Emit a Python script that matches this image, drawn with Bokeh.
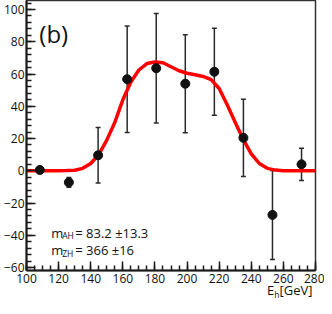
from bokeh.plotting import figure
from bokeh.layouts import column
from bokeh.models import (Range1d, FixedTicker, ColumnDataSource, Whisker, TeeHead, Label, Div)
from bokeh.embed import file_html
from bokeh.resources import INLINE
import numpy as np

# ---- data ----
x_pts = [108.3, 126.4, 144.6, 162.7, 180.8, 198.9, 217.0, 235.1, 253.2, 271.3]
y_pts = [0.5, -7.2, 9.6, 56.8, 63.6, 54.0, 61.4, 20.4, -27.4, 4.0]
y_err = [1.5, 3.0, 17.2, 33.0, 34.0, 30.4, 27.0, 24.0, 27.6, 10.0]

curve_x = [100, 105, 110, 115, 120, 125, 130, 135, 140, 145, 150, 155, 160, 165, 170,
           175, 180, 185, 190, 195, 200, 205, 210, 215, 220, 225, 230, 235, 240, 245,
           250, 255, 260, 265, 270, 275, 280]
curve_y = [0, 0, 0, 0, 0, 0.1, 0.3, 1.5, 4.5, 10, 19, 30, 44, 55, 62.5,
           66.5, 67.5, 67, 64.5, 62, 60.5, 59.5, 58.5, 56.5, 51, 41, 30, 19.5, 10.5, 4.5,
           1.5, 0.4, 0, 0, 0, 0, 0]

x_major = [100, 120, 140, 160, 180, 200, 220, 240, 260, 280]
y_major = [-60, -40, -20, 0, 20, 40, 60, 80, 100]

FONT = "Open Sans"
INK = "#1a1a1a"

p = figure(width=324, height=290, output_backend="svg", toolbar_location=None,
           x_range=Range1d(100, 280), y_range=Range1d(-61.86, 105.6),
           min_border_left=22, min_border_right=9, min_border_top=0, min_border_bottom=20)
p.background_fill_color = "white"
p.border_fill_color = "white"
p.grid.visible = False
p.outline_line_color = "#333333"
p.outline_line_width = 1.5

p.xaxis.ticker = FixedTicker(ticks=x_major, minor_ticks=list(np.arange(100, 281, 5)))
p.yaxis.ticker = FixedTicker(ticks=y_major, minor_ticks=list(np.arange(-60, 105, 4)))
for ax in (p.xaxis[0], p.yaxis[0]):
    ax.axis_line_width = 2
    ax.axis_line_color = INK
    ax.major_tick_in = 9
    ax.major_tick_out = 0
    ax.minor_tick_in = 5
    ax.minor_tick_out = 0
    ax.major_tick_line_width = 1.5
    ax.minor_tick_line_width = 1.5
    ax.major_tick_line_color = INK
    ax.minor_tick_line_color = INK
    ax.major_label_text_font = FONT
    ax.major_label_text_font_size = "12px"
    ax.major_label_text_color = "#111111"
p.yaxis.major_label_standoff = 2
p.xaxis.major_label_standoff = 3

# fit curve
p.line(curve_x, curve_y, line_color="#ff0000", line_width=3.5)

# error bars
src = ColumnDataSource(dict(x=x_pts, y=y_pts,
                            lo=[y - e for y, e in zip(y_pts, y_err)],
                            hi=[y + e for y, e in zip(y_pts, y_err)]))
w = Whisker(source=src, base="x", upper="hi", lower="lo", line_color="#2a2a2a", line_width=1.5,
            upper_head=TeeHead(size=5, line_color="#2a2a2a", line_width=1.5),
            lower_head=TeeHead(size=5, line_color="#2a2a2a", line_width=1.5))
p.add_layout(w)
p.scatter("x", "y", source=src, size=9, fill_color="#111111", line_color="#111111")

def lab(x, y, text, size, xo=0, yo=0):
    p.add_layout(Label(x=x, y=y, text=text, x_offset=xo, y_offset=yo,
                       text_font=FONT, text_font_size=size, text_color="#111111",
                       text_baseline="alphabetic", text_align="left"))

lab(108.0, 85.3, "(b)", "24px")

# annotations
bx = 115.4
lab(bx, -38.3, "m", "13px")
lab(bx, -38.3, "AH", "8.5px", xo=11, yo=-3)
lab(bx, -38.3, "= 83.2 \u00b113.3", "13px", xo=24)
lab(bx, -49.4, "m", "13px")
lab(bx, -49.4, "ZH", "8.5px", xo=11, yo=-3)
lab(bx, -49.4, "= 366 \u00b116", "13px", xo=24)

# x-axis title (below the axis, right aligned)
title = Div(
    text=('<div style="padding-left:267px; font-family:\'Open Sans\'; font-size:13px; '
          'line-height:16px; color:#111111; white-space:nowrap;">'
          'E<span style="font-size:8.5px; position:relative; top:3px;">h</span>[GeV]</div>'),
    width=324, height=16, margin=(-8, 0, 0, 0))

open("out.html", "w").write(file_html(column(p, title), INLINE))
